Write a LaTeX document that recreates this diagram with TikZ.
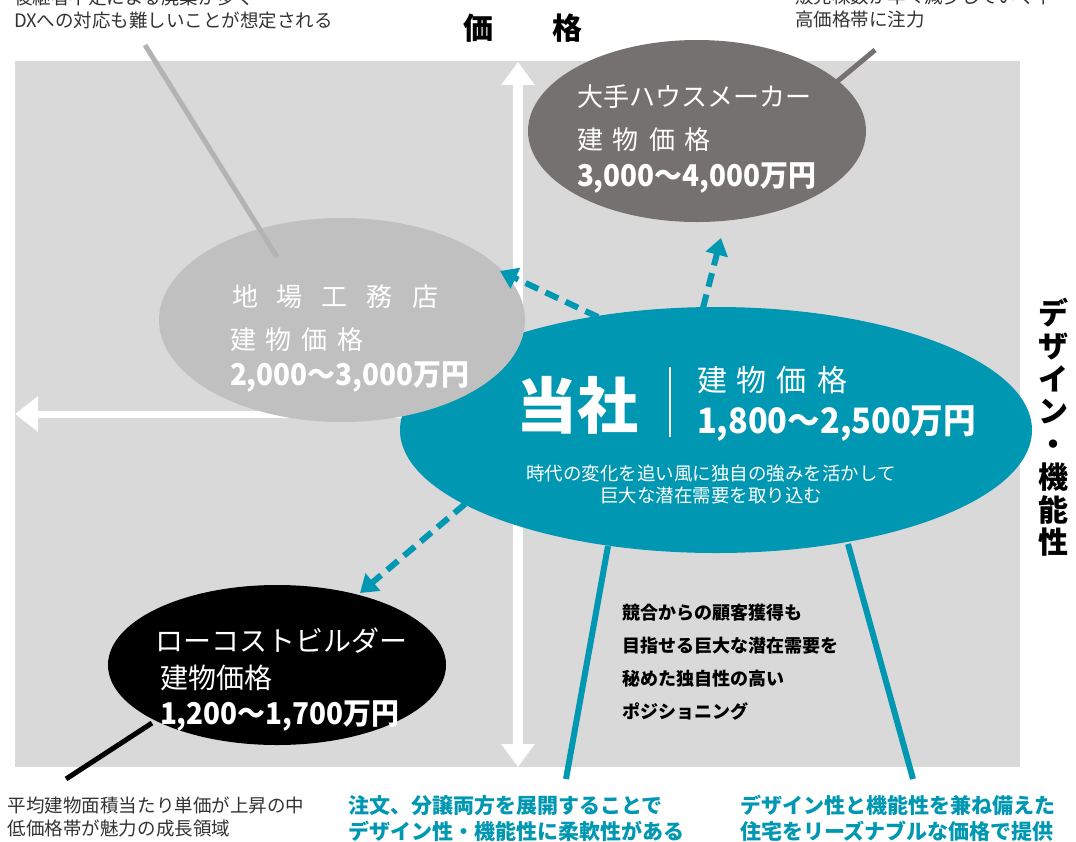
\documentclass[tikz,border=0pt]{standalone}
\usepackage{fontspec}
\usepackage{graphicx}
\setmainfont{Noto Sans CJK JP}
\usetikzlibrary{arrows.meta,shapes.geometric}
\definecolor{bggray}{HTML}{D9D9D9}
\definecolor{lgell}{HTML}{C0C0C0}
\definecolor{dgell}{HTML}{767171}
\definecolor{teal2}{HTML}{0097B2}
\definecolor{linegray}{HTML}{B3B3B3}
\definecolor{notegray}{HTML}{333333}
\newcommand\fsz[2]{\fontsize{#1}{#2}\selectfont}
\newcommand\cond[1]{\scalebox{0.93}[1]{#1}}
\tikzset{
  ell/.style={ellipse, draw=none, inner sep=0pt},
  txt/.style={inner sep=0pt, outer sep=0pt},
  wtxt/.style={txt, text=white},
  note/.style={txt, text=notegray, align=left, anchor=west, font=\fsz{18.5}{23}},
  tnote/.style={txt, text=teal2, align=left, anchor=west, font=\fsz{21}{25.5}\bfseries},
  dasharrow/.style={draw=teal2, line width=6pt, dash pattern=on 14pt off 8pt, -{Triangle[length=17pt,width=22pt]}},
  axis/.style={draw=white, line width=#1},
}
\begin{document}
\begin{tikzpicture}[x=1pt,y=-1pt]
\useasboundingbox (0,0) rectangle (1076,841);
\fill[white] (0,0) rectangle (1076,841);
\fill[bggray] (15,61) rectangle (1020,767);

% axes
\coordinate (axtop) at (518,62);
\coordinate (axbot) at (518,767);
\coordinate (axleft) at (15,414);
\coordinate (axright) at (1020,414);
\draw[axis=10pt, {Triangle[length=23pt,width=32pt]}-{Triangle[length=23pt,width=32pt]}] (axtop) -- (axbot);
\draw[axis=7pt, {Triangle[length=23pt,width=34pt]}-] (axleft) -- (axright);

% ellipses
\node[ell, fill=teal2, minimum width=632pt, minimum height=246pt] (tosha) at (716,430) {};
\node[ell, fill=lgell, minimum width=366pt, minimum height=204pt] (jiba) at (342,320) {};
\node[ell, fill=dgell, minimum width=338pt, minimum height=182pt] (ote) at (697,131) {};
\node[ell, fill=black, minimum width=338pt, minimum height=160pt] (low) at (277,665) {};

% connector lines to notes
\coordinate (tlA) at (145,45);
\coordinate (tlB) at (277,257);
\draw[linegray, line width=5pt] (tlA) -- (tlB);
\coordinate (trA) at (875,50);
\coordinate (trB) at (833,85);
\draw[dgell, line width=5pt] (trA) -- (trB);
\coordinate (blA) at (66,779);
\coordinate (blB) at (152,723);
\draw[black, line width=5pt] (blA) -- (blB);
\coordinate (tb1A) at (608,546);
\coordinate (tb1B) at (566,779);
\draw[teal2, line width=6pt] (tb1A) -- (tb1B);
\coordinate (tb2A) at (848,544);
\coordinate (tb2B) at (913,779);
\draw[teal2, line width=6pt] (tb2A) -- (tb2B);

% dashed arrows
\coordinate (d1s) at (598,317);
\coordinate (d1e) at (500,271);
\draw[dasharrow] (d1s) -- (d1e);
\coordinate (d2s) at (703,308);
\coordinate (d2e) at (721,238);
\draw[dasharrow] (d2s) -- (d2e);
\coordinate (d3s) at (465,504);
\coordinate (d3e) at (360,593);
\draw[dasharrow] (d3s) -- (d3e);

% axis labels
\node[txt, font=\fsz{30}{36}\bfseries] (ka) at (478,28) {価};
\node[txt, font=\fsz{30}{36}\bfseries] (ku) at (567,28) {格};
\node[txt, font=\fsz{30}{32.7}\bfseries, align=center] (dz) at (1053,427.5) {デ\\ザ\\イ\\ン\\・\\機\\能\\性};

% ote
\node[wtxt, anchor=west, font=\fsz{26}{30}] (oteA) at (577,97) {大手ハウスメーカー};
\node[wtxt, anchor=west, font=\fsz{26}{30}] (oteB) at (577,140) {建\kern10pt 物\kern10pt 価\kern10pt 格};
\node[wtxt, anchor=west, font=\fsz{30}{34}\bfseries] (oteC) at (577,178) {\cond{3,000～4,000万円}};

% jiba
\node[wtxt, anchor=west, font=\fsz{26}{30}] (jibaA) at (232,297) {地\kern19pt 場\kern19pt 工\kern19pt 務\kern19pt 店};
\node[wtxt, anchor=west, font=\fsz{26}{30}] (jibaB) at (230,340) {建\kern10pt 物\kern10pt 価\kern10pt 格};
\node[wtxt, anchor=west, font=\fsz{30}{34}\bfseries] (jibaC) at (230,377) {\cond{2,000～3,000万円}};

% tosha
\node[wtxt, anchor=west, font=\fsz{61}{66}\bfseries] (toshaA) at (516,405) {当社};
\coordinate (vlA) at (670,367);
\coordinate (vlB) at (670,437);
\draw[white, line width=1.3pt] (vlA) -- (vlB);
\node[wtxt, anchor=west, font=\fsz{30}{34}] (toshaB) at (697,380) {建\kern10pt 物\kern10pt 価\kern10pt 格};
\node[wtxt, anchor=west, font=\fsz{35}{40}\bfseries] (toshaC) at (697,424) {\cond{1,800～2,500万円}};
\node[wtxt, align=center, font=\fsz{18.5}{22}] (toshaD) at (711,484) {時代の変化を追い風に独自の強みを活かして\\巨大な潜在需要を取り込む};

% low cost
\node[wtxt, anchor=west, font=\fsz{28}{32}] (lowA) at (155,641) {ローコストビルダー};
\node[wtxt, anchor=west, font=\fsz{28}{32}] (lowB) at (160,678) {建物価格};
\node[wtxt, anchor=west, font=\fsz{30}{34}\bfseries] (lowC) at (160,716) {\cond{1,200～1,700万円}};

% notes
\node[note] (nTL) at (14,8.5) {後継者不足による廃業が多く\\DXへの対応も難しいことが想定される};
\node[note] (nTR) at (795,7.5) {販売棟数が年々減少していく中\\高価格帯に注力};
\node[note] (nBL) at (8,817) {平均建物面積当たり単価が上昇の中\\低価格帯が魅力の成長領域};
\node[tnote] (nB1) at (348,818.5) {注文、分譲両方を展開することで\\デザイン性・機能性に柔軟性がある};
\node[tnote] (nB2) at (740,818.5) {デザイン性と機能性を兼ね備えた\\住宅をリーズナブルな価格で提供};
\node[txt, align=left, anchor=west, font=\fsz{18}{33}\bfseries] (nMid) at (622,662.5) {競合からの顧客獲得も\\目指せる巨大な潜在需要を\\秘めた独自性の高い\\ポジショニング};
\end{tikzpicture}
\end{document}
